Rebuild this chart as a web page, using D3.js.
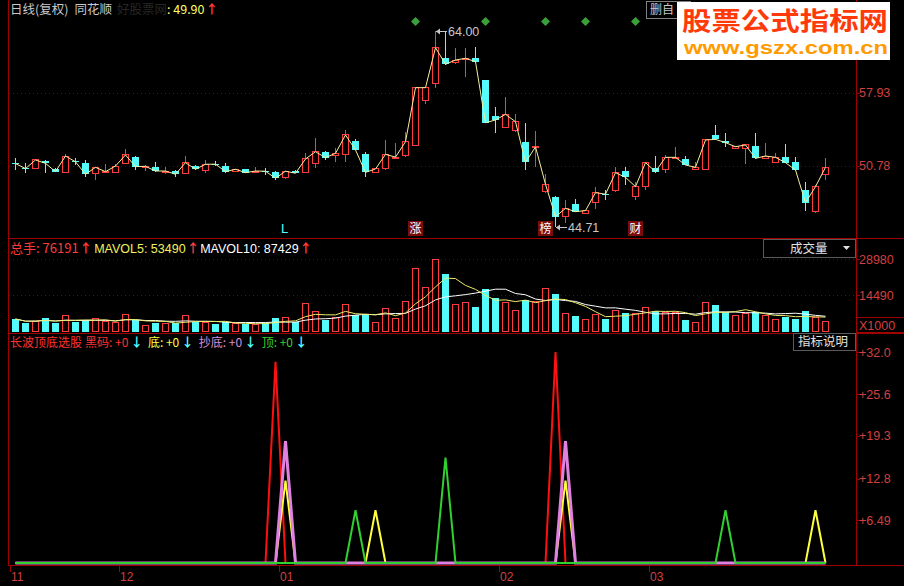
<!DOCTYPE html>
<html><head><meta charset="utf-8">
<script src="https://cdn.jsdelivr.net/npm/d3@7"></script>
<style>body{margin:0;background:#000;overflow:hidden} svg{display:block}</style>
</head><body><svg id="c" width="904" height="586"></svg>
<script>
// ---------- DATA ----------
const openP  = [51.01,50.52,50.50,51.26,50.41,50.11,51.18,51.06,50.02,50.08,50.11,50.99,51.65,50.63,50.60,50.11,50.24,49.95,50.73,50.28,50.95,50.73,50.18,50.41,50.11,50.26,50.18,49.60,50.28,50.11,50.99,52.13,51.74,51.87,53.18,51.87,50.11,50.44,51.50,51.74,52.72,57.19,58.83,61.28,60.88,61.15,61.28,59.15,55.66,54.48,54.16,53.05,52.50,48.22,47.73,45.77,47.01,46.09,47.14,48.01,48.38,50.27,47.79,48.71,50.50,50.40,51.48,51.38,50.40,50.40,53.77,53.21,52.46,52.46,52.69,51.48,51.06,51.64,51.09,48.38,46.26,49.85];
const highP  = [51.48,50.99,51.40,51.30,50.50,51.91,51.48,51.32,50.65,50.93,50.90,52.37,51.70,50.83,51.16,50.67,50.34,51.71,50.80,51.32,51.26,50.99,50.45,50.45,50.60,50.50,50.22,50.25,50.32,51.97,53.44,52.20,52.46,54.26,53.37,52.13,50.50,53.28,52.95,54.09,58.50,58.45,64.00,63.95,62.25,62.25,62.42,59.20,56.54,57.52,55.79,54.91,54.16,49.91,47.80,47.40,47.50,46.40,48.64,48.38,50.66,50.66,49.20,51.16,51.71,51.81,52.56,51.74,51.15,53.30,54.75,53.93,52.70,52.85,53.99,52.95,52.04,52.89,51.58,49.20,48.87,51.48];
const lowP   = [50.34,50.02,50.45,50.02,50.10,50.08,50.83,49.69,49.36,50.00,50.08,50.99,50.34,50.28,50.18,49.98,49.69,49.95,50.38,50.02,50.73,50.02,50.15,50.05,50.02,49.85,49.36,49.43,50.00,50.05,50.57,51.32,51.16,51.16,52.25,49.68,50.05,50.34,51.40,51.64,52.70,56.77,58.40,60.60,60.69,59.48,60.79,54.90,53.93,54.45,54.10,50.34,50.66,48.05,44.71,45.11,46.20,46.05,46.49,47.40,48.20,48.87,47.40,48.38,50.01,50.08,51.45,50.80,50.35,50.35,53.30,52.56,52.36,50.93,51.40,51.40,51.00,51.00,50.30,46.36,46.09,49.36];
const closeP = [50.97,50.48,51.32,50.99,50.18,51.71,51.14,49.92,50.60,50.18,50.73,51.81,50.67,50.70,50.24,50.24,49.92,51.06,50.41,50.90,50.91,50.18,50.41,50.08,50.24,50.22,49.53,50.22,50.02,51.42,52.13,51.55,51.97,53.77,52.30,50.11,50.44,51.87,51.60,53.11,58.40,58.40,62.32,60.69,61.11,61.28,60.95,54.97,55.24,55.79,55.07,51.09,52.60,48.93,45.77,46.58,46.26,46.36,48.12,47.97,50.08,49.62,48.71,51.06,50.18,51.58,51.58,50.83,50.60,53.28,53.34,53.02,52.62,52.79,51.48,51.71,51.58,51.06,50.34,47.14,48.71,50.60];
const volumes = [4997,3265,4197,5263,3265,6196,3665,4597,4997,3931,3532,6862,4597,2332,3265,3265,3265,6329,3665,3665,3000,3665,3000,3000,2866,3265,5530,5663,3931,11259,7928,4597,5530,10860,6596,6862,3665,9260,5263,11925,25249,17655,28980,22984,10860,11659,9660,16989,13258,11659,8195,12591,11925,17255,14857,7262,6196,4597,6596,4997,8195,7262,7262,9660,8195,7662,7662,4597,3665,11659,10593,7662,6329,7262,7662,6329,4597,5929,4997,8195,5530,4197];
const priceTicks = [57.93, 50.78];
const priceTickLabels = ["57.93", "50.78"];
const volTicks = [28980, 14490];
const volTickLabels = ["28980", "14490"];
const indTicks = [32.0, 25.6, 19.3, 12.8, 6.49];
const indTickLabels = ["+32.0", "+25.6", "+19.3", "+12.8", "+6.49"];
const monthLabels = ["11", "12", "01", "02", "03"];
const monthStartIdx = [0, 11, 27, 49, 64];
const diamondIdx = [40, 47, 53, 57, 62];
const markerIdx = [27, 40, 53, 62];
const markerText = ["L", "涨", "榜", "财"];
// indicator spikes: [day index, value]
const heimaSpikes  = [[26, 30.5], [54, 32.0]];
const diSpikes     = [[27, 12.5], [36, 8.0], [55, 12.5], [80, 8.0]];
const chaodiSpikes = [[27, 18.5], [55, 18.5]];
const dingSpikes   = [[34, 8.0], [43, 16.0], [71, 8.0]];

// ---------- SETUP ----------
const N = closeP.length;
const data = d3.range(N).map(i => ({i, o: openP[i], h: highP[i], l: lowP[i], c: closeP[i], v: volumes[i]}));
const svg = d3.select('#c');
svg.append('rect').attr('width', 904).attr('height', 586).attr('fill', '#000');

const RED = '#ff3c3c', CYAN = '#54fcfc', BORDER = '#a00000', GRID = '#7a0000', AXT = '#d04040';
const FONT = 'Liberation Sans, Arial, "Noto Sans CJK SC", sans-serif';
const CJK = '"Noto Sans CJK SC", "Liberation Sans", sans-serif';
const LEFT = 8, RIGHT = 856;

const x = d3.scaleLinear().domain([0, N - 1]).range([15, 15 + 10 * (N - 1)]);
const yP = d3.scaleLinear().domain([50.78, 57.93]).range([165.5, 92.5]);
const yV = d3.scaleLinear().domain([0, 28980]).range([331.5, 259]);
const yI = d3.scaleLinear().domain([0, 32]).range([563, 352]);

// ---------- FRAME ----------
const frame = svg.append('g').attr('stroke', BORDER).attr('stroke-width', 1).attr('shape-rendering', 'crispEdges');
frame.append('line').attr('x1', LEFT + .5).attr('x2', LEFT + .5).attr('y1', 0).attr('y2', 566);
frame.append('line').attr('x1', RIGHT + .5).attr('x2', RIGHT + .5).attr('y1', 0).attr('y2', 566);
[238, 333, 565].forEach(yy => frame.append('line').attr('x1', LEFT).attr('x2', 904).attr('y1', yy + .5).attr('y2', yy + .5));

function dotted(yy) {
  svg.append('line').attr('x1', LEFT + 1).attr('x2', RIGHT).attr('y1', Math.round(yy) + .5).attr('y2', Math.round(yy) + .5)
    .attr('stroke', GRID).attr('stroke-dasharray', '1,3').attr('shape-rendering', 'crispEdges');
}
priceTicks.forEach(t => dotted(yP(t)));
volTicks.forEach(t => dotted(yV(t)));

function axisLabel(yy, txt) {
  svg.append('line').attr('x1', RIGHT).attr('x2', RIGHT + 4).attr('y1', Math.round(yy) + .5).attr('y2', Math.round(yy) + .5)
    .attr('stroke', BORDER).attr('shape-rendering', 'crispEdges');
  svg.append('text').attr('x', RIGHT + 3).attr('y', yy + 4.5).attr('fill', AXT)
    .attr('font-family', FONT).attr('font-size', 12.5).text(txt);
}
priceTicks.forEach((t, k) => axisLabel(yP(t), priceTickLabels[k]));
volTicks.forEach((t, k) => axisLabel(yV(t), volTickLabels[k]));
indTicks.forEach((t, k) => axisLabel(yI(t), indTickLabels[k]));
svg.append('rect').attr('x', RIGHT + .5).attr('y', 317.5).attr('width', 50).attr('height', 15).attr('fill', 'none').attr('stroke', BORDER);
svg.append('text').attr('x', RIGHT + 3).attr('y', 329.5).attr('fill', AXT).attr('font-family', FONT).attr('font-size', 12.5).text('X1000');

// ---------- PRICE PANEL ----------
const pg = svg.append('g').attr('shape-rendering', 'crispEdges');
pg.selectAll('line.wick').data(data).join('line')
  .attr('x1', d => x(d.i) + .5).attr('x2', d => x(d.i) + .5)
  .attr('y1', d => yP(d.h)).attr('y2', d => yP(d.l))
  .attr('stroke', d => d.c >= d.o ? RED : CYAN);
pg.selectAll('rect.body').data(data).join('rect')
  .attr('x', d => d.c >= d.o ? x(d.i) - 2.5 : x(d.i) - 3)
  .attr('width', d => d.c >= d.o ? 6 : 7)
  .attr('y', d => yP(Math.max(d.o, d.c)))
  .attr('height', d => Math.max(1, Math.abs(yP(d.o) - yP(d.c))))
  .attr('fill', d => d.c >= d.o ? '#000' : CYAN)
  .attr('stroke', d => d.c >= d.o ? RED : 'none');
svg.append('path').datum(data)
  .attr('d', d3.line().x(d => x(d.i) + .5).y(d => yP(d.c)))
  .attr('fill', 'none').attr('stroke', '#f4f0a0').attr('stroke-width', 1);

const hiIdx = d3.maxIndex(highP), loIdx = d3.minIndex(lowP);
function annot(i, val, txt) {
  const yy = Math.round(yP(val)) + .5, x0 = x(i) + 1;
  svg.append('line').attr('x1', x0).attr('x2', x0 + 11).attr('y1', yy).attr('y2', yy).attr('stroke', '#c8c8c8');
  svg.append('path').attr('d', `M${x0},${yy} l4,-3 l0,6 z`).attr('fill', '#c8c8c8');
  svg.append('text').attr('x', x0 + 12).attr('y', yy + 4.5).attr('fill', '#c8c8c8')
    .attr('font-family', FONT).attr('font-size', 12.5).text(txt);
}
annot(hiIdx, highP[hiIdx], highP[hiIdx].toFixed(2));
annot(loIdx, lowP[loIdx], lowP[loIdx].toFixed(2));

svg.selectAll('path.dia').data(diamondIdx).join('path')
  .attr('d', i => `M${x(i) + .5},17 l4.5,4.5 l-4.5,4.5 l-4.5,-4.5 z`)
  .attr('fill', '#3aa03a');

markerIdx.forEach((i, k) => {
  const t = markerText[k];
  if (t === 'L') {
    svg.append('text').attr('x', x(i) - 4).attr('y', 233).attr('fill', CYAN)
      .attr('font-family', FONT).attr('font-size', 13).text(t);
  } else {
    svg.append('rect').attr('x', x(i) - 7).attr('y', 221).attr('width', 15).attr('height', 15).attr('fill', '#7a0c0c');
    svg.append('text').attr('x', x(i) + .5).attr('y', 233).attr('text-anchor', 'middle').attr('fill', '#ffffff')
      .attr('font-family', CJK).attr('font-size', 12).text(t);
  }
});

// sequential header layout: each item {t, c, size, font, bold, gap}
function seq(startX, py, items) {
  let cx = startX;
  items.forEach(it => {
    cx += (it.gap || 0);
    const el = svg.append('text').attr('x', cx).attr('y', py).attr('fill', it.c)
      .attr('font-family', it.font || CJK).attr('font-size', it.size || 12.5)
      .attr('font-weight', it.bold ? 'bold' : null).text(it.t);
    cx += el.node().getComputedTextLength();
  });
}
const UP = (c) => ({t: '↑', c, size: 12.5, bold: true, gap: 1});
const DN = (c) => ({t: '↓', c, size: 12.5, bold: true, gap: 2});

seq(10, 14, [
  {t: '日线(复权)', c: '#c8c8c8'},
  {t: '同花顺', c: '#c8c8c8', gap: 6},
  {t: '好股票网', c: '#262626', gap: 5},
  {t: ': 49.90', c: '#ffff66', gap: 0},
  UP(RED)
]);

// top-right button + watermark
svg.append('rect').attr('x', 646.5).attr('y', 1.5).attr('width', 44).attr('height', 17).attr('fill', '#000').attr('stroke', '#808080');
svg.append('text').attr('x', 650).attr('y', 14).attr('fill', '#c8c8c8').attr('font-family', CJK).attr('font-size', 12).text('删自');
svg.append('rect').attr('x', 677).attr('y', 2).attr('width', 213).attr('height', 58).attr('fill', '#ffffff');
svg.append('text').attr('x', 682).attr('y', 30).attr('fill', '#ff3a0a').attr('font-family', CJK).attr('font-weight', 'bold')
  .attr('font-size', 25).attr('textLength', 206).attr('lengthAdjust', 'spacingAndGlyphs').text('股票公式指标网');
svg.append('text').attr('x', 684).attr('y', 54).attr('fill', '#ff9a00').attr('font-family', FONT).attr('font-weight', 'bold')
  .attr('font-size', 19).attr('textLength', 204).attr('lengthAdjust', 'spacingAndGlyphs').text('www.gszx.com.cn');

// ---------- VOLUME PANEL ----------
const vg = svg.append('g').attr('shape-rendering', 'crispEdges');
vg.selectAll('rect').data(data).join('rect')
  .attr('x', d => d.c >= d.o ? x(d.i) - 2.5 : x(d.i) - 3)
  .attr('width', d => d.c >= d.o ? 6 : 7)
  .attr('y', d => yV(d.v))
  .attr('height', d => yV(0) - yV(d.v))
  .attr('fill', d => d.c >= d.o ? '#000' : CYAN)
  .attr('stroke', d => d.c >= d.o ? RED : 'none');
function ma(arr, n) { return arr.map((_, i) => d3.mean(arr.slice(Math.max(0, i - n + 1), i + 1))); }
const ma5 = ma(volumes, 5), ma10 = ma(volumes, 10);
svg.append('path').datum(ma10).attr('d', d3.line().x((d, i) => x(i) + .5).y(d => yV(d)))
  .attr('fill', 'none').attr('stroke', '#ffffff').attr('stroke-width', 1);
svg.append('path').datum(ma5).attr('d', d3.line().x((d, i) => x(i) + .5).y(d => yV(d)))
  .attr('fill', 'none').attr('stroke', '#ecec70').attr('stroke-width', 1);

seq(10, 253, [
  {t: '总手: 76191', c: RED, size: 13},
  UP(RED),
  {t: 'MAVOL5: 53490', c: '#f0f060', font: FONT, size: 12.5, gap: 2},
  UP(RED),
  {t: 'MAVOL10: 87429', c: '#ffffff', font: FONT, size: 12.5, gap: 1},
  UP(RED)
]);
svg.append('rect').attr('x', 763.5).attr('y', 239.5).attr('width', 92).attr('height', 18).attr('fill', '#000').attr('stroke', '#5a5a5a');
svg.append('text').attr('x', 790).attr('y', 253).attr('fill', '#e0e0e0').attr('font-family', CJK).attr('font-size', 12.5).text('成交量');
svg.append('path').attr('d', 'M843,246 l7,0 l-3.5,4 z').attr('fill', '#e0e0e0');

// ---------- INDICATOR PANEL ----------
function series(spikes) { const a = new Array(N).fill(0); spikes.forEach(([i, v]) => a[i] = v); return a; }
const heima = series(heimaSpikes), di = series(diSpikes), chaodi = series(chaodiSpikes), ding = series(dingSpikes);
const lineI = d3.line().x((d, i) => x(i) + .5).y(d => yI(d));
svg.append('path').datum(heima).attr('d', lineI).attr('fill', 'none').attr('stroke', '#ff1010').attr('stroke-width', 2);
svg.append('path').datum(di).attr('d', lineI).attr('fill', 'none').attr('stroke', '#ffff40').attr('stroke-width', 2);
svg.append('path').datum(chaodi).attr('d', lineI).attr('fill', 'none').attr('stroke', '#e080e0').attr('stroke-width', 3);
svg.append('path').datum(ding).attr('d', lineI).attr('fill', 'none').attr('stroke', '#30d030').attr('stroke-width', 2);

seq(10, 347, [
  {t: '长波顶底选股', c: '#ff3030', size: 12},
  {t: '黑码: +0', c: '#ff3030', size: 12, gap: 3},
  DN(CYAN),
  {t: '底: +0', c: '#ffff40', size: 12, gap: 5},
  DN(CYAN),
  {t: '抄底: +0', c: '#d890d8', size: 12, gap: 5},
  DN(CYAN),
  {t: '顶: +0', c: '#30d030', size: 12, gap: 5},
  DN(CYAN)
]);
svg.append('rect').attr('x', 793.5).attr('y', 333.5).attr('width', 62).attr('height', 17).attr('fill', '#000').attr('stroke', '#5a5a5a');
svg.append('text').attr('x', 798).attr('y', 346).attr('fill', '#e0e0e0').attr('font-family', CJK).attr('font-size', 12.5).text('指标说明');

// ---------- X AXIS ----------
monthStartIdx.forEach((i, k) => {
  const xx = i === 0 ? 10 : x(i) - 6;
  svg.append('line').attr('x1', xx + .5).attr('x2', xx + .5).attr('y1', 566).attr('y2', 572).attr('stroke', BORDER);
  svg.append('text').attr('x', xx + 1).attr('y', 581).attr('fill', AXT).attr('font-family', FONT).attr('font-size', 12).text(monthLabels[k]);
});
</script></body></html>
